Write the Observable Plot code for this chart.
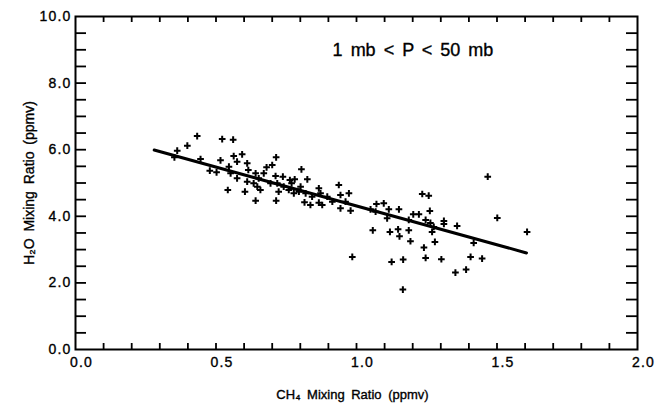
<!DOCTYPE html>
<html>
<head>
<meta charset="utf-8">
<script src="https://cdn.jsdelivr.net/npm/d3@7"></script>
<script src="https://cdn.jsdelivr.net/npm/@observablehq/plot@0.6"></script>
<style>
  html, body { margin: 0; padding: 0; background: #fff; }
  svg text { word-spacing: 3px; stroke: #000; stroke-width: 0.35px; }
  g[aria-label$="tick label"] text { letter-spacing: 1.2px; }
</style>
</head>
<body>
<div id="chart"></div>
<script>
// CH4 mixing ratio (ppmv) of each sample
const ch4 = [0.362,0.352,0.398,0.433,0.522,0.561,0.445,0.516,0.478,0.502,0.546,0.552,0.575,0.563,0.593,0.575,0.611,0.615,0.641,0.611,0.542,0.603,0.641,0.634,
  0.714,0.700,0.680,0.670,0.652,0.647,0.658,0.714,0.712,0.738,0.694,0.718,0.741,0.723,0.763,0.780,0.769,0.759,0.777,0.804,0.825,0.801,0.795,0.819,0.815,0.836,
  0.842,0.866,0.872,0.866,0.878,0.896,0.914,0.937,0.943,0.943,0.961,0.973,0.979,1.050,1.071,1.068,1.097,1.115,1.151,1.109,1.058,1.119,1.148,1.153,1.186,
  1.467,1.234,1.257,1.202,1.222,1.261,1.186,1.246,1.263,1.311,1.311,1.358,1.275,1.269,1.501,1.607,1.417,1.192,1.279,1.240,1.166,1.246,1.302,1.406,1.447,1.352,1.390,
  0.985,1.125,1.165];
// H2O mixing ratio (ppmv) of each sample
const h2o = [5.97,5.77,6.12,6.41,6.32,6.30,5.72,5.68,5.37,5.32,5.49,5.29,5.14,5.81,5.86,5.64,5.59,5.39,5.29,5.04,4.79,4.74,4.47,4.99,
  5.77,5.54,5.47,5.29,5.14,4.89,4.79,4.47,5.21,5.19,4.99,4.99,4.89,4.74,5.09,5.11,4.99,4.79,4.69,5.41,5.11,4.89,4.74,4.69,4.42,4.34,
  4.59,4.84,4.69,4.41,4.34,4.59,4.44,4.94,4.64,4.24,4.44,4.69,4.17,4.21,4.37,4.14,4.39,4.21,4.21,3.94,3.58,3.53,3.61,3.40,3.58,
  5.19,4.67,4.62,4.06,4.06,4.16,3.89,3.89,3.80,3.86,3.77,3.71,3.68,3.53,3.95,3.53,3.20,3.25,3.23,3.06,2.70,2.75,2.71,2.78,2.73,2.31,2.40,
  2.78,2.63,1.80];
// Linear fit line end points
const fitCH4 = [0.28, 1.605];
const fitH2O = [5.99, 2.90];
// Axis ticks and labels
const xLabelTicks = [0, 0.5, 1.0, 1.5, 2.0];
const xMinorTicks = [0.1,0.2,0.3,0.4,0.5,0.6,0.7,0.8,0.9,1.0,1.1,1.2,1.3,1.4,1.5,1.6,1.7,1.8,1.9];
const yLabelTicks = [0, 2, 4, 6, 8, 10];
const yMinorTicks = [0.5,1,1.5,2,2.5,3,3.5,4,4.5,5,5.5,6,6.5,7,7.5,8,8.5,9,9.5];
const xTitle = "CH\u2084 Mixing Ratio (ppmv)";
const yTitle = "H\u2082O Mixing Ratio (ppmv)";
const note = "1 mb < P < 50 mb";

const points = ch4.map((c, i) => ({ch4: c, h2o: h2o[i]}));
const fit = fitCH4.map((c, i) => ({ch4: c, h2o: fitH2O[i]}));

const W = 661, H = 404, mL = 75, mR = 24, mT = 16, mB = 55;
const plotW = W - mL - mR, plotH = H - mT - mB;

const chart = Plot.plot({
  width: W, height: H,
  marginLeft: mL, marginRight: mR, marginTop: mT, marginBottom: mB,
  x: {domain: [0, 2]},
  y: {domain: [0, 10]},
  style: {fontFamily: "'Liberation Sans', Arial, Helvetica, sans-serif", fontSize: "13px", color: "#000", background: "#fff"},
  marks: [
    Plot.tickX(xMinorTicks, {x: d => d, insetTop: plotH - 6, strokeWidth: 1.8}),
    Plot.tickX(xMinorTicks, {x: d => d, insetBottom: plotH - 6, strokeWidth: 1.8}),
    Plot.tickY(yMinorTicks, {y: d => d, insetRight: plotW - 11, strokeWidth: 1.8}),
    Plot.tickY(yMinorTicks, {y: d => d, insetLeft: plotW - 11, strokeWidth: 1.8}),
    Plot.frame({strokeWidth: 2}),
    Plot.axisX(xLabelTicks, {tickSize: 0, tickPadding: 8, dx: 6, tickFormat: d3.format(".1f"), fontSize: 14, label: null}),
    Plot.axisY(yLabelTicks, {tickSize: 0, tickPadding: 4, tickFormat: d3.format(".1f"), fontSize: 14, label: null}),
    Plot.line(fit, {x: "ch4", y: "h2o", strokeWidth: 3, stroke: "#000"}),
    Plot.dot(points, {x: "ch4", y: "h2o", symbol: "plus", r: 2.3, strokeWidth: 2, stroke: "#000"}),
    Plot.text([note], {x: 0.915, y: 9.0, text: d => d, textAnchor: "start", fontSize: 18}),
    Plot.text([xTitle], {frameAnchor: "bottom", text: d => d, textAnchor: "middle", lineAnchor: "middle", dx: -4, dy: 45, fontSize: 13}),
    Plot.text([yTitle], {frameAnchor: "left", text: d => d, textAnchor: "middle", lineAnchor: "middle", dx: -46, rotate: -90, fontSize: 14})
  ]
});
document.getElementById("chart").appendChild(chart);
</script>
</body>
</html>
